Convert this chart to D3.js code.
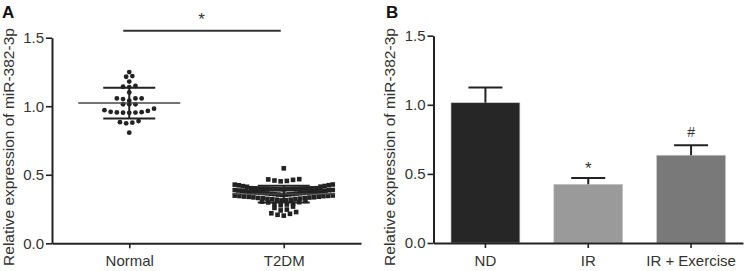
<!DOCTYPE html>
<html>
<head>
<meta charset="utf-8">
<script src="https://cdn.jsdelivr.net/npm/d3@7/dist/d3.min.js"></script>
<style>
  body { margin: 0; background: #fff; }
  svg { display: block; font-family: "Liberation Sans", Arial, sans-serif; }
</style>
</head>
<body>
<svg id="chart" width="746" height="271"></svg>
<script>
// ---- data ----
const groupsA = ["Normal", "T2DM"];
const normalValues = [
  1.249, 1.220, 1.215, 1.180, 1.148, 1.142, 1.140, 1.101,
  1.057, 1.057, 1.057, 1.052, 1.040, 1.014, 1.014, 1.014,
  0.982, 0.966, 0.959, 0.953, 0.952, 0.955, 0.954, 0.957, 0.971,
  0.892, 0.880, 0.875, 0.884, 0.807
];
const t2dmValues = [
  0.547,
  0.468, 0.463, 0.455, 0.452, 0.458, 0.466,
  0.428, 0.424, 0.418, 0.413, 0.412, 0.417, 0.423, 0.429,
  0.402, 0.401, 0.399, 0.399, 0.398, 0.397, 0.396, 0.395, 0.394,
  0.393, 0.395, 0.396, 0.397, 0.398, 0.400, 0.401, 0.402,
  0.389, 0.387, 0.385, 0.383, 0.381, 0.379, 0.377, 0.375, 0.373, 0.371,
  0.369, 0.367, 0.365, 0.363, 0.361, 0.359, 0.357, 0.355, 0.353,
  0.356, 0.360, 0.364, 0.368, 0.372, 0.376, 0.380, 0.384, 0.388,
  0.349, 0.346, 0.344, 0.341, 0.339, 0.336, 0.334, 0.331, 0.329, 0.326,
  0.323, 0.321, 0.318, 0.315, 0.313, 0.318, 0.324, 0.330, 0.335, 0.340,
  0.345, 0.348,
  0.309, 0.304, 0.298, 0.290, 0.283, 0.277, 0.286, 0.300,
  0.268, 0.258, 0.246, 0.240,
  0.228, 0.219, 0.208, 0.202, 0.215
];

const categoriesB = ["ND", "IR", "IR + Exercise"];
const meansB = [1.015, 0.425, 0.635];
const errorsB = [0.11, 0.045, 0.072];
const marksB = ["", "*", "#"];

const yTicks = [0, 0.5, 1.0, 1.5];
const yLabel = "Relative expression of miR-382-3p";

// ---- styles ----
const barColors = ["#262626", "#9a9a9a", "#797979"];
const ink = "#222";

const svg = d3.select("#chart");

function styleAxis(g) {
  g.select(".domain").attr("stroke", ink).attr("stroke-width", 2);
  g.selectAll(".tick line").attr("stroke", ink).attr("stroke-width", 1.6);
  g.selectAll(".tick text").attr("fill", "#333").style("font-family", "Liberation Sans, Arial, sans-serif");
}

// Prism-like column scatter: bin by value, spread each bin sideways,
// lowest values in the middle so rows bend into a shallow V
function swarmLayout(values, binStep, binOrigin, spacing, maxHalf) {
  const bins = d3.group(values, v => Math.floor((v - binOrigin) / binStep));
  const out = [];
  for (const [, vals] of bins) {
    const sorted = vals.slice().sort(d3.ascending);
    const n = sorted.length;
    const step = n > 1 ? Math.min(spacing, 2 * maxHalf / (n - 1)) : 0;
    const slots = d3.range(n).map(i => (i - (n - 1) / 2) * step)
      .sort((a, b) => Math.abs(a) - Math.abs(b) || a - b);
    sorted.forEach((v, i) => out.push({ value: v, dx: slots[i] }));
  }
  return out;
}

// ================= Panel A =================
const xA = d3.scalePoint().domain(groupsA).range([52, 361]).padding(0.5);
const yA = d3.scaleLinear().domain([0, 1.5]).range([243.3, 37.7]);

svg.append("g")
  .attr("transform", "translate(52,0)")
  .call(d3.axisLeft(yA).tickValues(yTicks).tickFormat(d3.format(".1f")).tickSize(6).tickPadding(2).tickSizeOuter(0))
  .call(styleAxis)
  .selectAll("text").style("font-size", "15px");

svg.append("g")
  .attr("transform", "translate(0,243.3)")
  .call(d3.axisBottom(xA).tickSize(5).tickPadding(7).tickSizeOuter(0))
  .call(styleAxis)
  .selectAll("text").style("font-size", "15px");

const gA = svg.append("g");
const seriesA = [normalValues, t2dmValues];

seriesA.forEach((vals, gi) => {
  const cx = xA(groupsA[gi]);
  const pts = swarmLayout(vals, 0.04, 0.031, 6.2, 49);
  if (gi === 0) {
    gA.append("g").selectAll("circle")
      .data(pts)
      .join("circle")
      .attr("cx", d => cx + d.dx)
      .attr("cy", d => yA(d.value))
      .attr("r", 2.4)
      .attr("fill", ink);
  } else {
    gA.append("g").selectAll("rect")
      .data(pts)
      .join("rect")
      .attr("x", d => cx + d.dx - 2.3)
      .attr("y", d => yA(d.value) - 2.3)
      .attr("width", 4.6)
      .attr("height", 4.6)
      .attr("fill", ink);
  }

  // mean and SD
  const m = d3.mean(vals);
  const sd = d3.deviation(vals);
  gA.append("line")
    .attr("x1", cx - 51).attr("x2", cx + 51)
    .attr("y1", yA(m)).attr("y2", yA(m))
    .attr("stroke", "#444").attr("stroke-width", 1.5);
  gA.append("line")
    .attr("x1", cx).attr("x2", cx)
    .attr("y1", yA(m - sd)).attr("y2", yA(m + sd))
    .attr("stroke", ink).attr("stroke-width", 2);
  [m - sd, m + sd].forEach(v => {
    gA.append("line")
      .attr("x1", cx - 26).attr("x2", cx + 26)
      .attr("y1", yA(v)).attr("y2", yA(v))
      .attr("stroke", ink).attr("stroke-width", 2);
  });
});

// significance bracket
const sigY = yA(1.55);
gA.append("line")
  .attr("x1", xA("Normal") - 6).attr("x2", xA("T2DM") - 3)
  .attr("y1", sigY).attr("y2", sigY)
  .attr("stroke", "#333").attr("stroke-width", 2);
gA.append("text")
  .attr("x", (xA("Normal") + xA("T2DM")) / 2 - 5)
  .attr("y", sigY - 6)
  .attr("text-anchor", "middle")
  .style("font-size", "17px")
  .attr("fill", "#333")
  .text("*");

// ================= Panel B =================
const xB = d3.scaleBand().domain(categoriesB).range([433.5, 743]).paddingInner(0.33).paddingOuter(0.17);
const yB = d3.scaleLinear().domain([0, 1.5]).range([243, 35.7]);

const gB = svg.append("g");

gB.selectAll("rect.bar")
  .data(categoriesB)
  .join("rect")
  .attr("class", "bar")
  .attr("x", d => xB(d))
  .attr("y", (d, i) => yB(meansB[i]))
  .attr("width", xB.bandwidth())
  .attr("height", (d, i) => yB(0) - yB(meansB[i]))
  .attr("fill", (d, i) => barColors[i])
  .attr("stroke", "#c8c8c8")
  .attr("stroke-width", 0.6);

categoriesB.forEach((c, i) => {
  const cx = xB(c) + xB.bandwidth() / 2;
  const top = yB(meansB[i] + errorsB[i]);
  gB.append("line")
    .attr("x1", cx).attr("x2", cx)
    .attr("y1", yB(meansB[i])).attr("y2", top)
    .attr("stroke", ink).attr("stroke-width", 2);
  gB.append("line")
    .attr("x1", cx - 17).attr("x2", cx + 17)
    .attr("y1", top).attr("y2", top)
    .attr("stroke", ink).attr("stroke-width", 2);
  if (marksB[i]) {
    gB.append("text")
      .attr("x", cx)
      .attr("y", top - (marksB[i] === "*" ? 4 : 8))
      .attr("text-anchor", "middle")
      .style("font-size", marksB[i] === "*" ? "17px" : "14px")
      .attr("fill", "#333")
      .text(marksB[i]);
  }
});

svg.append("g")
  .attr("transform", "translate(433.5,0)")
  .call(d3.axisLeft(yB).tickValues(yTicks).tickFormat(d3.format(".1f")).tickSize(6).tickPadding(2).tickSizeOuter(0))
  .call(styleAxis)
  .selectAll("text").style("font-size", "15px");

svg.append("g")
  .attr("transform", "translate(0,243)")
  .call(d3.axisBottom(xB).tickSize(5).tickPadding(7).tickSizeOuter(0))
  .call(styleAxis)
  .selectAll("text").style("font-size", "15px");

// ---- y labels and panel letters ----
[[13.5, "A", 2], [395, "B", 386]].forEach(([lx, letter, px]) => {
  svg.append("text")
    .attr("transform", `translate(${lx},147) rotate(-90)`)
    .attr("text-anchor", "middle")
    .style("font-size", "15.5px")
    .attr("fill", "#333")
    .text(yLabel);
  svg.append("text")
    .attr("x", px)
    .attr("y", 18)
    .style("font-size", "17px")
    .style("font-weight", "bold")
    .attr("fill", "#111")
    .text(letter);
});
</script>
</body>
</html>
